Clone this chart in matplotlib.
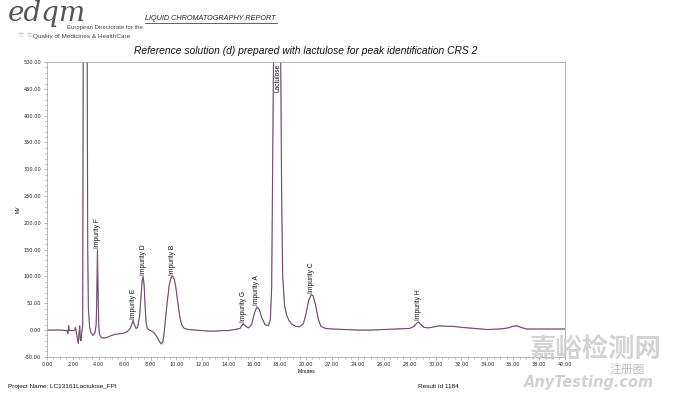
import matplotlib
matplotlib.use("Agg")
import matplotlib.pyplot as plt
from matplotlib.lines import Line2D
from matplotlib.ticker import MultipleLocator, FormatStrFormatter

# chromatogram trace (minutes, mV)
time_min = [0.0, 1.0, 1.55, 1.62, 1.68, 1.72, 2.0, 2.15, 2.2, 2.25, 2.35, 2.42, 2.48,
            2.53, 2.58, 2.63, 2.7, 2.76, 2.8, 2.84, 2.95, 3.05, 3.11, 3.15, 3.2, 3.3,
            3.4, 3.55, 3.7, 3.8, 3.85, 3.9, 3.95, 4.0, 4.05, 4.2, 4.4, 4.6, 4.8, 5.0,
            5.3, 5.6, 5.9, 6.2, 6.4, 6.55, 6.65, 6.75, 6.88, 7.0, 7.15, 7.25, 7.35,
            7.42, 7.5, 7.58, 7.65, 7.75, 7.9, 8.1, 8.3, 8.5, 8.7, 8.85, 8.95, 9.05,
            9.15, 9.3, 9.45, 9.6, 9.7, 9.82, 9.95, 10.1, 10.25, 10.4, 10.6, 10.9,
            11.5, 12.0, 12.5, 13.0, 13.5, 14.0, 14.5, 14.9, 15.05, 15.15, 15.3,
            15.55, 15.8, 16.0, 16.2, 16.4, 16.6, 16.85, 17.1, 17.25, 17.35, 17.42,
            17.5, 17.65, 17.8, 17.95, 18.05, 18.12, 18.2, 18.35, 18.5, 18.7, 18.9,
            19.2, 19.5, 19.8, 20.0, 20.2, 20.4, 20.55, 20.75, 20.95, 21.15, 21.5,
            22.0, 23.0, 24.0, 25.0, 26.0, 27.0, 28.0, 28.35, 28.55, 28.67, 28.85,
            29.1, 29.45, 29.9, 30.3, 30.8, 31.3, 32.0, 33.0, 34.0, 35.0, 35.6, 36.0,
            36.25, 36.6, 37.0, 38.0, 39.0, 40.0]
signal_mv = [0, 0, -1, -7, 8, -1, -1, 0, 5, -2, -15, -25, -5,
             8, -18, -20, -2, 8, 500, 900, 1200, 1000, 500, 150, 40, 5,
             -5, -10, -6, 10, 60, 150, 70, 10, -8, -14, -15, -14, -12, -10,
             -8, -7, -6, -3, 2, 10, 18, 10, 3, 5, 25, 60, 92,
             100, 85, 45, 15, 3, 0, -2, -6, -13, -22, -26, -22, -5,
             20, 55, 85, 99, 100, 96, 80, 52, 26, 10, 3, 1,
             0, -1, -2, -2, -1, -1, 1, 3, 8, 12, 8,
             4, 10, 30, 43, 38, 22, 10, 8, 20, 80, 300,
             550, 900, 950, 800, 500, 250, 100, 45, 28, 17, 11,
             7, 6, 12, 30, 55, 66, 64, 45, 20, 7, 3,
             2, 1, 0, 0, 1, 2, 3, 7, 13, 15, 11,
             5, 4, 6, 8, 7, 7, 5, 3, 1, 2, 4, 7,
             8, 5, 2, 2, 2, 2]

# peak labels: name, retention time, label base (mV)
peak_names = ["Impurity F", "Impurity E", "Impurity D", "Impurity B", "Impurity G",
              "Impurity A", "Impurity C", "Impurity H"]
peak_times = [3.9, 6.65, 7.42, 9.7, 15.15, 16.2, 20.45, 28.67]
peak_tops = [150, 18, 100, 100, 12, 43, 66, 15]

fig = plt.figure(figsize=(6.8, 3.93), dpi=100)
ax = fig.add_axes([0.069, 0.092, 0.762, 0.750])

ax.plot(time_min, signal_mv, color="#5e3c60", lw=0.8)
ax.plot(time_min, signal_mv, color="#b070a8", lw=0.3, alpha=0.6)

for name, t, top in zip(peak_names, peak_times, peak_tops):
    ax.text(t, top + 3, name, rotation=90, ha="center", va="bottom",
            fontsize=4.8, family="Liberation Sans", color="#111111")
ax.text(17.8, 497, "Lactulose", rotation=90, ha="center", va="top",
        fontsize=4.8, family="Liberation Sans", color="#111111")

ax.set_xlim(0, 40)
ax.set_ylim(-50, 500)
ax.xaxis.set_major_locator(MultipleLocator(2))
ax.xaxis.set_minor_locator(MultipleLocator(0.5))
ax.yaxis.set_major_locator(MultipleLocator(50))
ax.yaxis.set_minor_locator(MultipleLocator(10))
ax.xaxis.set_major_formatter(FormatStrFormatter("%.2f"))
ax.yaxis.set_major_formatter(FormatStrFormatter("%.2f"))
ax.tick_params(which="both", direction="out", colors="#999999", labelcolor="#222222",
               labelsize=3.6, width=0.5, pad=1.5)
ax.tick_params(which="major", length=2.5)
ax.tick_params(which="minor", length=1.5)
for s in ax.spines.values():
    s.set_linewidth(0.6)
    s.set_color("#aaaaaa")
ax.set_xlabel("Minutes", fontsize=3.6, family="Liberation Sans", labelpad=1)
ax.set_ylabel("MV", fontsize=3.6, family="Liberation Sans", labelpad=2)

# header
fig.text(0.012, 0.947, "edqm", fontsize=20, family="DejaVu Serif", style="italic",
         color="#555555", va="baseline")
fig.text(0.026, 0.905, "\u2606 \u2606", fontsize=5, color="#888888", family="DejaVu Sans")
fig.text(0.098, 0.925, "European Directorate for the", fontsize=4.3,
         family="Liberation Sans", color="#444444")
fig.text(0.048, 0.904, "Quality of Medicines & HealthCare", fontsize=4.6,
         family="Liberation Sans", color="#444444")
fig.text(0.213, 0.948, "LIQUID CHROMATOGRAPHY REPORT", fontsize=5.2,
         family="Liberation Sans", style="italic", color="#222222")
fig.add_artist(Line2D([0.213, 0.408], [0.942, 0.942], color="#222222", lw=0.5))
fig.text(0.449, 0.862, "Reference solution (d) prepared with lactulose for peak "
         "identification CRS 2", fontsize=7.4, family="Liberation Sans",
         style="italic", ha="center", color="#111111")

# footer
fig.text(0.012, 0.012, "Project Name: LC13161Lactulose_FPI", fontsize=4.6,
         family="Liberation Sans", color="#111111")
fig.text(0.615, 0.012, "Result Id 1184", fontsize=4.6, family="Liberation Sans",
         color="#111111")

# watermark
fig.text(0.778, 0.092, "嘉峪检测网", fontsize=19, family="Noto Sans CJK SC",
         color="#c8c8c8", alpha=0.8, weight="bold")
fig.text(0.897, 0.052, "注册圈", fontsize=8.5, family="Noto Sans CJK SC",
         color="#b8b8b8", alpha=0.9)
fig.text(0.77, 0.016, "AnyTesting.com", fontsize=10.5, family="DejaVu Sans",
         style="italic", weight="bold", color="#cccccc", alpha=0.9)

fig.savefig("out.png", dpi=100)
